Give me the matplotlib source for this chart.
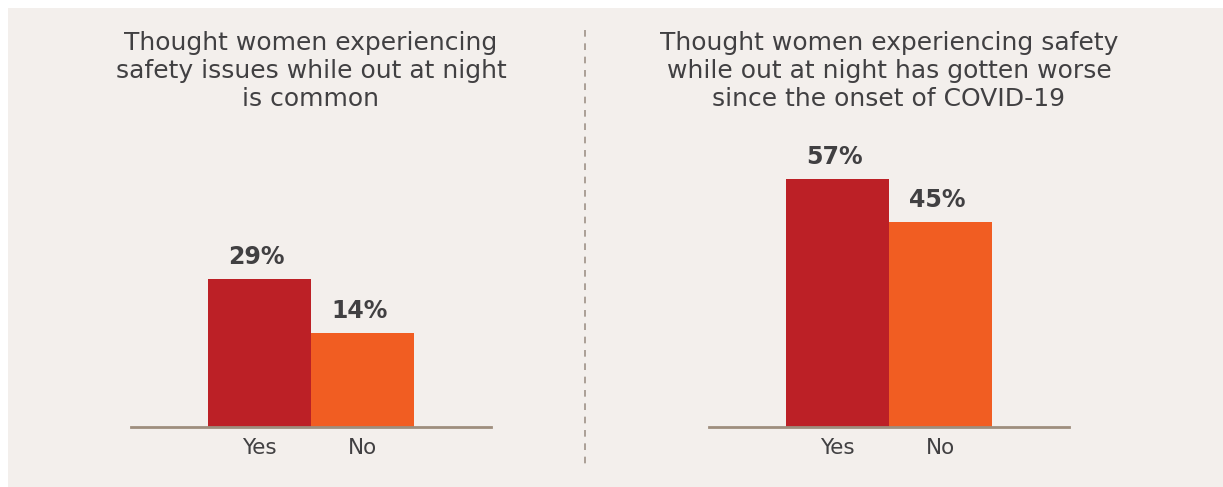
import matplotlib
matplotlib.use("Agg")
import matplotlib.pyplot as plt
from matplotlib.lines import Line2D

plt.rcParams["font.family"] = ["DejaVu Sans"]

# ---- data ----
categories = ["Yes", "No"]
left_title = "Thought women experiencing\nsafety issues while out at night\nis common"
right_title = "Thought women experiencing safety\nwhile out at night has gotten worse\nsince the onset of COVID-19"
left_labels = ["29%", "14%"]
right_labels = ["57%", "45%"]
# bar heights as drawn in the picture (common scale, right "Yes" = 57)
left_heights = [34.0, 21.6]
right_heights = [57.0, 47.1]

bar_colors = ["#bc2026", "#f15d22"]
bg = "#f3efec"
text_color = "#414042"
base_color = "#9e8e7e"

W, H = 1223, 487
fig = plt.figure(figsize=(W / 100, H / 100), dpi=100)
fig.patch.set_facecolor("white")

# background panel
bg_ax = fig.add_axes([8 / W, 0, 1 - 8 / W, 1 - 8 / H], zorder=-10)
bg_ax.set_facecolor(bg)
bg_ax.set_xticks([])
bg_ax.set_yticks([])
for s in bg_ax.spines.values():
    s.set_visible(False)

# dashed divider
fig.add_artist(Line2D([585 / W, 585 / W], [1 - 30 / H, 1 - 470 / H],
                      transform=fig.transFigure, color="#9e9288",
                      linewidth=1.2, linestyle=(0, (4, 4))))

base_y = 426.7
top_y = 30
px_per_unit = 247.7 / 57.0
ymax = (base_y - top_y) / px_per_unit


def make_panel(x0, x1, heights, labels, title):
    ax = fig.add_axes([x0 / W, 1 - base_y / H, (x1 - x0) / W, (base_y - top_y) / H])
    ax.set_facecolor("none")
    ax.bar([0, 1], heights, width=1.0, color=bar_colors, zorder=2)
    ax.set_xlim(-1.247, 2.249)
    ax.set_ylim(0, ymax)
    for s in ["top", "right", "left"]:
        ax.spines[s].set_visible(False)
    ax.spines["bottom"].set_color(base_color)
    ax.spines["bottom"].set_linewidth(2)
    ax.spines["bottom"].set_zorder(3)
    ax.set_yticks([])
    ax.set_xticks([0, 1])
    ax.set_xticklabels(categories, fontsize=15.5, color=text_color)
    ax.tick_params(axis="x", length=0, pad=8)
    for i, (h, lab) in enumerate(zip(heights, labels)):
        ax.annotate(lab, (i, h), xytext=(-2, 7), textcoords="offset points",
                    ha="center", va="bottom", fontsize=17, fontweight="bold",
                    color=text_color)
    cx = (x0 + x1) / 2
    fig.text(cx / W, 1 - 31 / H, title, ha="center", va="top", fontsize=18,
             fontweight=500, color=text_color, linespacing=1.2)
    return ax


make_panel(131, 491, left_heights, left_labels, left_title)
make_panel(709, 1069, right_heights, right_labels, right_title)

fig.savefig("out.png", dpi=100, facecolor=fig.get_facecolor())
